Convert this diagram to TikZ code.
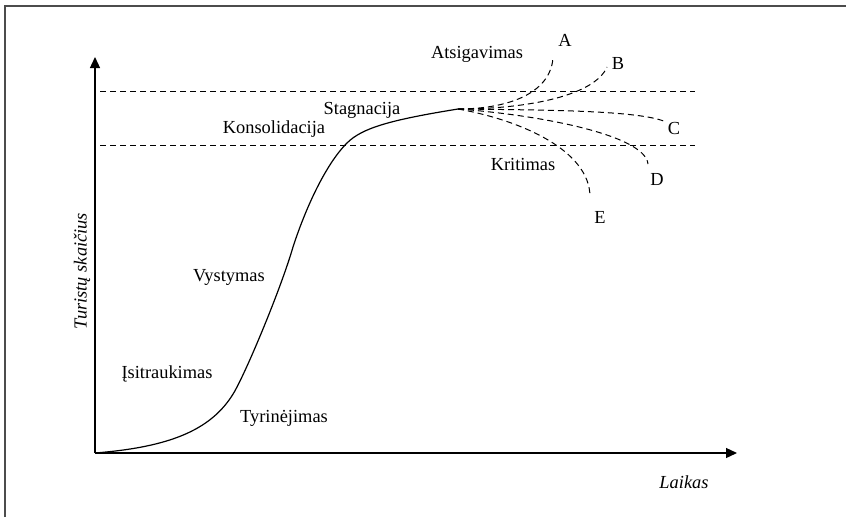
\documentclass[tikz,border=0pt]{standalone}
\usepackage{fontspec}
\setmainfont{Liberation Serif}
\usetikzlibrary{arrows.meta}
\begin{document}
\begin{tikzpicture}[x=1pt,y=-1pt,
  lbl/.style={inner sep=0pt,font=\fontsize{18.4}{22}\selectfont},
  axis/.style={line width=1.3pt,-{Triangle[length=11pt,width=10pt]}},
  guide/.style={line width=1pt,dash pattern=on 6pt off 4pt},
  scen/.style={line width=1pt,dash pattern=on 6pt off 4pt},
  curve/.style={line width=1.2pt}]
\useasboundingbox (0,0) rectangle (846,517);
% frame
\draw[line width=2pt,black!70] (5,517) -- (5,6) -- (846,6);
% axes
\coordinate (O) at (95,453);
\coordinate (ytip) at (95,57);
\coordinate (xtip) at (737,453);
\draw[axis] (O) -- (ytip);
\draw[axis] (O) -- (xtip);
% guide lines
\coordinate (u1) at (100,91.5);
\coordinate (u2) at (695,91.5);
\coordinate (l1) at (100,145);
\coordinate (l2) at (695,145);
\draw[guide] (u1) -- (u2);
\draw[guide] (l1) -- (l2);
% main curve
\coordinate (S) at (458,109);
\coordinate (p1) at (237,387);
\coordinate (p2) at (293,247);
\coordinate (p3) at (347,143);
\draw[curve] (O) .. controls (170,447) and (215,430) .. (p1)
  .. controls (252,358) and (282,285) .. (p2)
  .. controls (305,210) and (325,165) .. (p3)
  .. controls (362,128) and (390,120) .. (S);
% scenarios
\coordinate (a) at (553,58);
\coordinate (b) at (607,67);
\coordinate (c) at (666,122);
\coordinate (d) at (648,164);
\coordinate (e) at (590,197);
\draw[scen] (S) .. controls (505,109) and (550,95) .. (a);
\draw[scen] (S) .. controls (530,109) and (595,95) .. (b);
\draw[scen] (S) .. controls (540,110) and (640,110) .. (c);
\draw[scen] (S) .. controls (540,115) and (645,135) .. (d);
\draw[scen] (S) .. controls (520,120) and (590,150) .. (e);
% labels
\node[lbl] (lA) at (565,40) {A};
\node[lbl] (lB) at (618,64) {B};
\node[lbl] (lC) at (674,128) {C};
\node[lbl] (lD) at (657,179) {D};
\node[lbl] (lE) at (600,217) {E};
\node[lbl] (atsi) at (477,54) {Atsigavimas};
\node[lbl] (krit) at (523,164) {Kritimas};
\node[lbl] (stag) at (362,110) {Stagnacija};
\node[lbl] (kons) at (274,129) {Konsolidacija};
\node[lbl] (vyst) at (229,277) {Vystymas};
\node[lbl] (isit) at (167,374) {Įsitraukimas};
\node[lbl] (tyri) at (284,418) {Tyrinėjimas};
\node[lbl,font=\fontsize{18.4}{22}\selectfont\itshape] (lai) at (684,482) {Laikas};
\node[lbl,font=\fontsize{18.4}{22}\selectfont\itshape,rotate=90] (tur) at (82,271) {Turistų skaičius};
\end{tikzpicture}
\end{document}
